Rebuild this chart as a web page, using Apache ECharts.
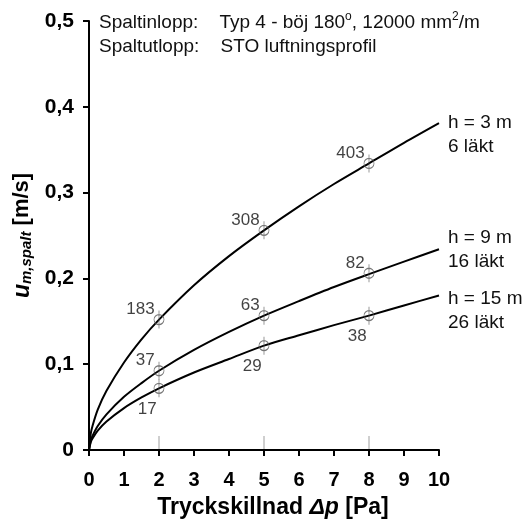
<!DOCTYPE html>
<html>
<head>
<meta charset="utf-8">
<script src="https://cdn.jsdelivr.net/npm/echarts@6/dist/echarts.min.js"></script>
<style>
html,body{margin:0;padding:0;background:#fff;}
#c{width:531px;height:525px;}
</style>
</head>
<body>
<div id="c"></div>
<script>
// ---- data ----
var curveX = [0, 0.05, 0.1, 0.25, 0.5, 1, 1.5, 2, 3, 4, 5, 6, 7, 8, 9, 10];
var curveH3  = [0, 0.019, 0.028, 0.047, 0.069, 0.102, 0.129, 0.152, 0.192, 0.226, 0.256, 0.284, 0.310, 0.334, 0.358, 0.381];
var curveH9  = [0, 0.011, 0.0165, 0.028, 0.0416, 0.062, 0.078, 0.0924, 0.1166, 0.1376, 0.1566, 0.1736, 0.190, 0.205, 0.2195, 0.234];
var curveH15 = [0, 0.009, 0.0134, 0.0225, 0.0331, 0.0488, 0.0612, 0.0719, 0.0903, 0.106, 0.1216, 0.1337, 0.1455, 0.1566, 0.1685, 0.180];
var markerX = [2, 5, 8];
var markH3  = [0.152, 0.256, 0.334];
var markH9  = [0.0924, 0.1566, 0.206];
var markH15 = [0.0719, 0.1216, 0.1566];
var lblH3  = ['183', '308', '403'];
var lblH9  = ['37', '63', '82'];
var lblH15 = ['17', '29', '38'];
var seriesNames = ['h = 3 m\n6 läkt', 'h = 9 m\n16 läkt', 'h = 15 m\n26 läkt'];
var yTicks = ['0', '0,1', '0,2', '0,3', '0,4', '0,5'];

function pairs(xs, ys) { return xs.map(function (x, i) { return [x, ys[i]]; }); }
function labelled(xs, ys, ls) { return xs.map(function (x, i) { return { value: [x, ys[i]], name: ls[i] }; }); }

var FONT = 'Liberation Sans, Arial, sans-serif';
var markerPath = 'path://M5,0L5,18M0,9A5,5,0,1,1,10,9A5,5,0,1,1,0,9Z';

function lineSeries(name, ys, endOffset) {
  return {
    type: 'line', name: name, data: pairs(curveX, ys), smooth: 0.3,
    symbol: 'none', lineStyle: { color: '#000', width: 2, join: 'round' },
    endLabel: { show: true, formatter: '{a}', color: '#111', fontFamily: FONT, fontSize: 19,
      lineHeight: 24, distance: 9, offset: endOffset },
    z: 2
  };
}
function markSeries(ys, ls, pos, offset) {
  return {
    type: 'scatter', data: labelled(markerX, ys, ls), symbol: markerPath, symbolSize: [10, 18],
    itemStyle: { color: 'rgba(0,0,0,0)', borderColor: '#555', borderWidth: 1 },
    label: { show: true, formatter: '{b}', position: pos, distance: 0, offset: offset,
      color: '#111', fontFamily: FONT, fontSize: 17 },
    z: 3
  };
}

var chart = echarts.init(document.getElementById('c'));
chart.setOption({
  animation: false,
  backgroundColor: '#fff',
  title: {
    left: 99, top: 11, padding: 0,
    text: 'Spaltinlopp:    Typ 4 - böj 180{sup|o}, 12000 mm{sup|2}/m\nSpaltutlopp:    STO luftningsprofil',
    textStyle: { fontFamily: FONT, fontSize: 19, fontWeight: 'normal', color: '#111', lineHeight: 24,
      rich: { sup: { fontSize: 12, verticalAlign: 'top', lineHeight: 24, padding: [0, 0, 9, 0], fontFamily: FONT, color: '#111' } } }
  },
  grid: { left: 89, right: 92, top: 21, bottom: 75 },
  xAxis: {
    type: 'value', min: 0, max: 10, interval: 1,
    axisLine: { lineStyle: { color: '#000', width: 2 } },
    axisTick: { show: true, length: 6, lineStyle: { color: '#000', width: 2 } },
    splitLine: { show: false },
    axisLabel: { margin: 20, color: '#000', fontFamily: FONT, fontSize: 20, fontWeight: 'bold' },
    name: 'Tryckskillnad {i|Δp} [Pa]', nameLocation: 'middle', nameGap: 46,
    nameTextStyle: { fontFamily: FONT, fontSize: 23, fontWeight: 'bold', color: '#000', padding: [0, 0, 0, 18],
      rich: { i: { fontFamily: FONT, fontSize: 23, fontWeight: 'bold', fontStyle: 'italic', color: '#000' } } }
  },
  yAxis: {
    type: 'value', min: 0, max: 0.5, interval: 0.1,
    axisLine: { show: true, lineStyle: { color: '#000', width: 2 } },
    axisTick: { show: true, length: 6, lineStyle: { color: '#000', width: 2 } },
    splitLine: { show: false },
    axisLabel: { margin: 15, color: '#000', fontFamily: FONT, fontSize: 21, fontWeight: 'bold',
      formatter: function (v) { return yTicks[Math.round(v * 10)]; } },
    name: '{u|u}{s|m,spalt} [m/s]', nameLocation: 'middle', nameGap: 48, nameRotate: 90,
    nameTextStyle: { fontFamily: FONT, fontSize: 22, fontWeight: 'bold', color: '#000',
      rich: {
        u: { fontFamily: FONT, fontSize: 23, fontWeight: 'bold', fontStyle: 'italic', color: '#000' },
        s: { fontFamily: FONT, fontSize: 15, fontWeight: 'bold', fontStyle: 'italic', color: '#000', verticalAlign: 'bottom', padding: [7, 0, 0, 0] }
      } }
  },
  series: [
    lineSeries(seriesNames[0], curveH3, [0, 12]),
    lineSeries(seriesNames[1], curveH9, [0, 1]),
    lineSeries(seriesNames[2], curveH15, [0, 15]),
    markSeries(markH3, lblH3, 'left', [1, -10]),
    markSeries(markH9, lblH9, 'left', [1, -10]),
    markSeries(markH15, lblH15, 'left', [3, 21]),
    {
      type: 'scatter', data: markerX.map(function (x) { return [x, 0]; }), symbol: 'rect',
      symbolSize: [1, 13], symbolOffset: [0, -7.5], itemStyle: { color: '#888' }, silent: true, z: 1
    }
  ]
});
</script>
</body>
</html>
